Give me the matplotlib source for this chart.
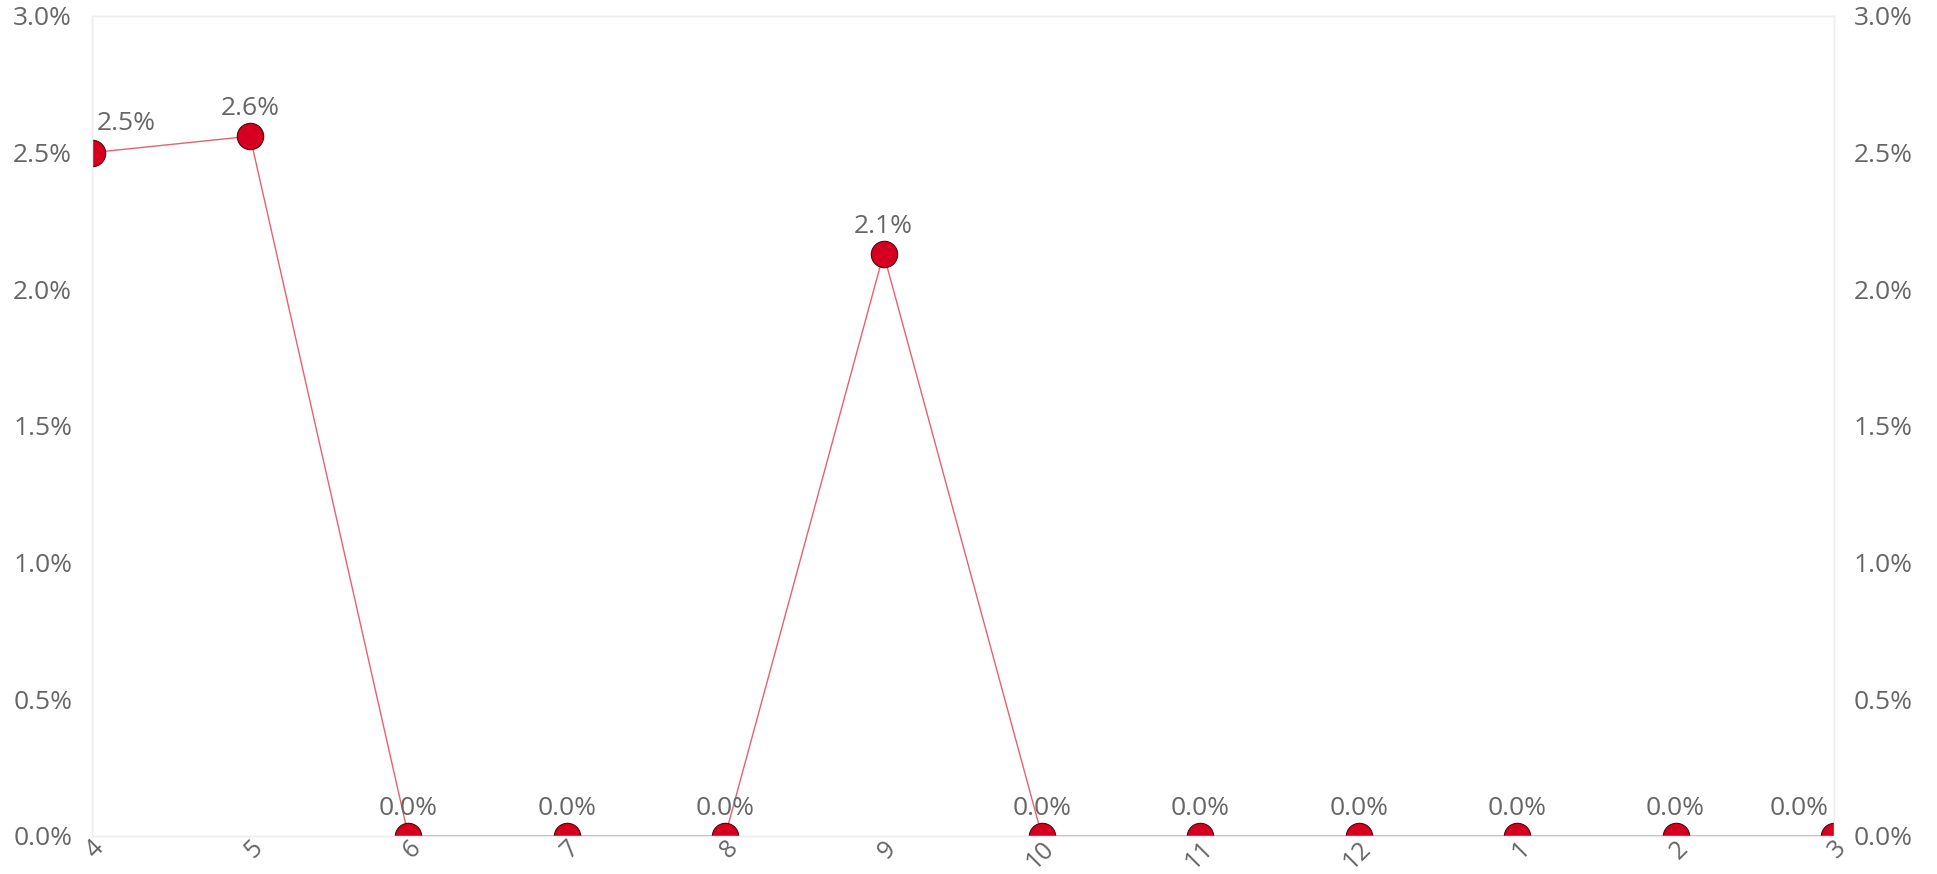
import numpy as np
import matplotlib
matplotlib.use("Agg")
import matplotlib.pyplot as plt
from matplotlib.ticker import FuncFormatter

plt.rcParams['font.family'] = ['Open Sans', 'DejaVu Sans']

# months (fiscal order) and rate values in percent
months = ['4', '5', '6', '7', '8', '9', '10', '11', '12', '1', '2', '3']
rates = [2.50, 2.56, 0.0, 0.0, 0.0, 2.13, 0.0, 0.0, 0.0, 0.0, 0.0, 0.0]
labels = ['2.5%', '2.6%', '0.0%', '0.0%', '0.0%', '2.1%',
          '0.0%', '0.0%', '0.0%', '0.0%', '0.0%', '0.0%']

grey = '#666666'
fs = 19
fig = plt.figure(figsize=(19.37, 8.74), dpi=100, facecolor='white')
ax = fig.add_axes([0.0473, 0.0435, 0.8995, 0.9382])

x = np.arange(len(months))
ax.plot(x, rates, color='#E8606F', linewidth=1.0, zorder=2)
ax.plot(x, rates, linestyle='none', marker='o', markersize=19,
        markerfacecolor='#D50020', markeredgecolor='#5a0010',
        markeredgewidth=0.8, zorder=3)

for i, (v, t) in enumerate(zip(rates, labels)):
    if i == 0:
        ax.annotate(t, (x[i], v), xytext=(4, 16), textcoords='offset points',
                    ha='left', va='baseline', fontsize=fs, color=grey)
    elif i == len(rates) - 1:
        ax.annotate(t, (x[i], v), xytext=(-4, 15), textcoords='offset points',
                    ha='right', va='baseline', fontsize=fs, color=grey)
    else:
        ax.annotate(t, (x[i], v), xytext=(0, 15), textcoords='offset points',
                    ha='center', va='baseline', fontsize=fs, color=grey)

ax.set_xlim(0, len(months) - 1)
ax.set_ylim(0, 3.0)
ax.set_yticks(np.arange(0, 3.01, 0.5))
fmt = FuncFormatter(lambda v, p: '%.1f%%' % v)
ax.yaxis.set_major_formatter(fmt)
ax.set_xticks(x)
ax.set_xticklabels(months, rotation=45, ha='right', va='top',
                   rotation_mode='anchor', fontsize=18)

ax.tick_params(axis='both', length=0, labelcolor=grey)
ax.tick_params(axis='y', pad=14, labelsize=fs)
ax.tick_params(axis='x', pad=0)
for lab in ax.get_xticklabels():
    lab.set_x(lab.get_position()[0])

ax2 = ax.twinx()
ax2.set_ylim(ax.get_ylim())
ax2.set_yticks(np.arange(0, 3.01, 0.5))
ax2.yaxis.set_major_formatter(fmt)
ax2.tick_params(axis='y', length=0, labelsize=fs, labelcolor=grey, pad=14)

for a in (ax, ax2):
    for s in a.spines.values():
        s.set_color('#EEEEEE')
        s.set_linewidth(1)

fig.savefig('out.png', dpi=100, facecolor='white')
